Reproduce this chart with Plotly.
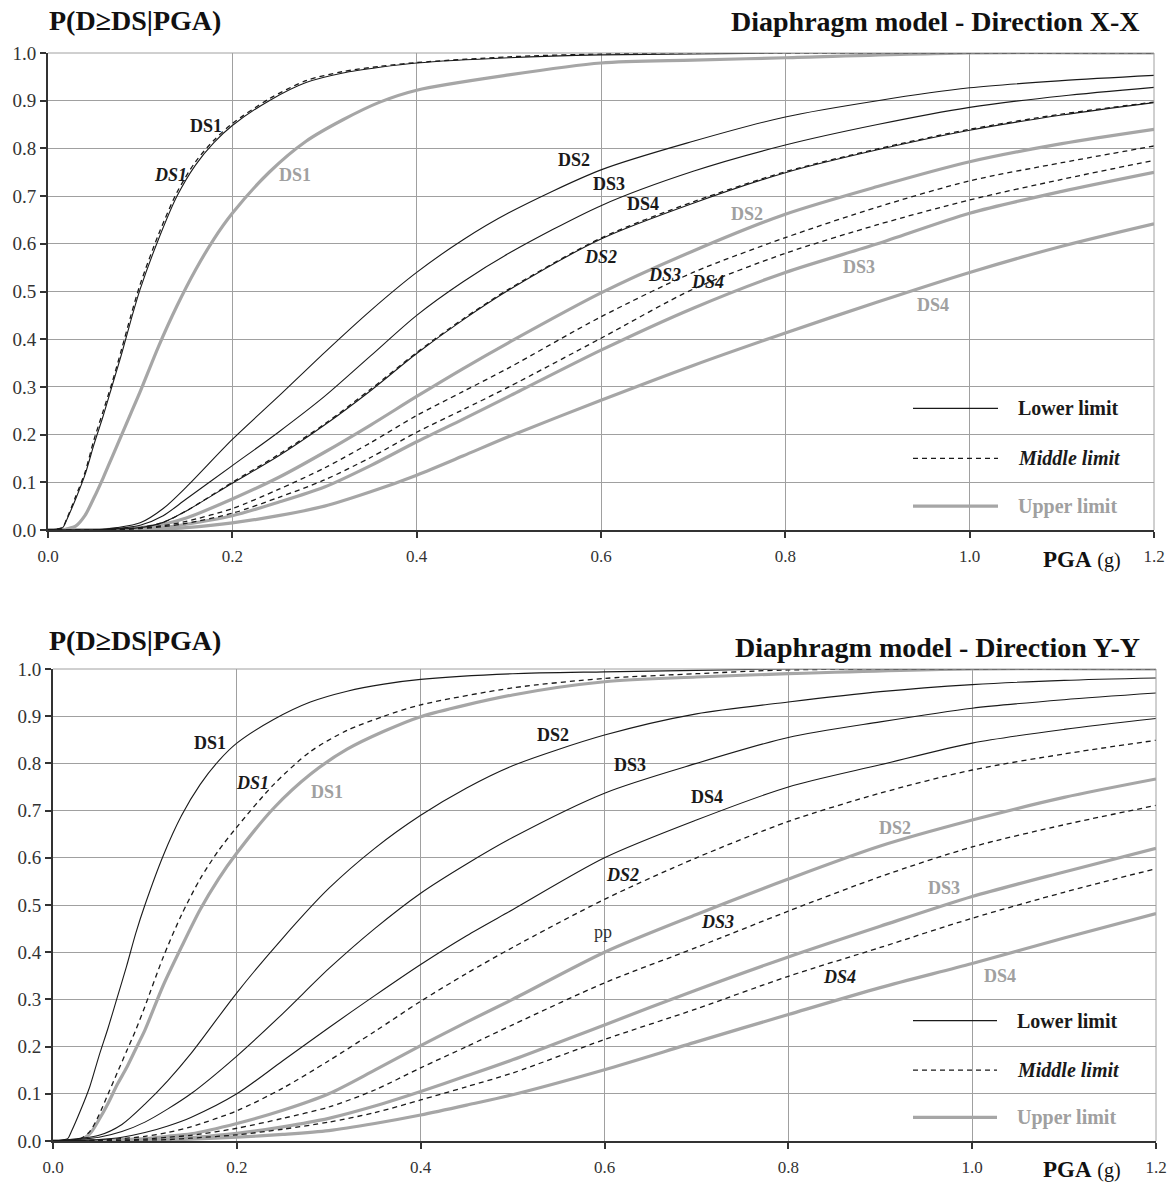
import plotly.graph_objects as go

# ---------------- DATA ----------------
PGA_FINE = [0, 0.01, 0.016, 0.02, 0.03, 0.04, 0.05, 0.06, 0.07, 0.08, 0.09, 0.1,
            0.12, 0.14, 0.16, 0.18, 0.2, 0.24, 0.28, 0.32, 0.36, 0.4,
            0.5, 0.6, 0.7, 0.8, 1.0, 1.2]
PGA = [0, 0.05, 0.075, 0.1, 0.125, 0.15, 0.2, 0.25, 0.3, 0.35, 0.4, 0.45,
       0.5, 0.6, 0.7, 0.8, 0.9, 1.0, 1.1, 1.2]

# Direction X-X
X_LOW_DS1 = [0, 0.002, 0.005, 0.02, 0.065, 0.115, 0.18, 0.24, 0.305, 0.37, 0.44, 0.505,
             0.61, 0.70, 0.765, 0.812, 0.848, 0.9, 0.938, 0.958, 0.97, 0.979,
             0.99, 0.996, 0.998, 1.0, 1.0, 1.0]
X_MID_DS1 = [0, 0.002, 0.006, 0.022, 0.07, 0.12, 0.19, 0.25, 0.312, 0.38, 0.45, 0.515,
             0.62, 0.708, 0.772, 0.817, 0.852, 0.904, 0.942, 0.961, 0.972, 0.98,
             0.992, 0.998, 1.0, 1.0, 1.0, 1.0]
X_UP_DS1 = [0, 0, 0, 0.002, 0.008, 0.03, 0.068, 0.11, 0.155, 0.2, 0.245, 0.29,
            0.385, 0.47, 0.545, 0.61, 0.664, 0.75, 0.815, 0.86, 0.897, 0.922,
            0.954, 0.979, 0.985, 0.99, 1.0, 1.0]
X_LOW_DS2 = [0, 0, 0.005, 0.015, 0.045, 0.09, 0.19, 0.28, 0.372, 0.46, 0.54, 0.608, 0.665, 0.755, 0.815, 0.866, 0.9, 0.927, 0.942, 0.953]
X_LOW_DS3 = [0, 0, 0.003, 0.01, 0.03, 0.065, 0.135, 0.205, 0.28, 0.365, 0.45, 0.52, 0.58, 0.68, 0.752, 0.807, 0.85, 0.886, 0.91, 0.928]
X_LOW_DS4 = [0, 0, 0.002, 0.005, 0.016, 0.04, 0.098, 0.155, 0.22, 0.292, 0.37, 0.44, 0.503, 0.61, 0.685, 0.749, 0.797, 0.838, 0.87, 0.896]
X_MID_DS2 = [0, 0, 0.002, 0.005, 0.016, 0.04, 0.1, 0.158, 0.222, 0.295, 0.372, 0.442, 0.505, 0.612, 0.688, 0.751, 0.799, 0.84, 0.872, 0.897]
X_MID_DS3 = [0, 0, 0.001, 0.004, 0.009, 0.018, 0.045, 0.085, 0.13, 0.183, 0.24, 0.29, 0.34, 0.447, 0.54, 0.613, 0.677, 0.732, 0.77, 0.805]
X_MID_DS4 = [0, 0, 0.001, 0.003, 0.007, 0.014, 0.035, 0.068, 0.105, 0.152, 0.205, 0.252, 0.30, 0.402, 0.505, 0.58, 0.64, 0.692, 0.735, 0.775]
X_UP_DS2 = [0, 0, 0.002, 0.005, 0.012, 0.025, 0.065, 0.11, 0.163, 0.22, 0.28, 0.338, 0.393, 0.497, 0.585, 0.662, 0.72, 0.772, 0.81, 0.84]
X_UP_DS3 = [0, 0, 0.001, 0.002, 0.005, 0.012, 0.03, 0.058, 0.09, 0.135, 0.185, 0.232, 0.28, 0.377, 0.465, 0.54, 0.60, 0.664, 0.71, 0.75]
X_UP_DS4 = [0, 0, 0, 0.001, 0.002, 0.005, 0.015, 0.03, 0.05, 0.08, 0.115, 0.155, 0.196, 0.272, 0.345, 0.413, 0.478, 0.54, 0.595, 0.642]

# Direction Y-Y
Y_LOW_DS1 = [0, 0.002, 0.005, 0.02, 0.065, 0.115, 0.18, 0.24, 0.305, 0.37, 0.44, 0.50,
             0.605, 0.69, 0.755, 0.805, 0.843, 0.893, 0.93, 0.953, 0.968, 0.978,
             0.99, 0.994, 0.997, 1.0, 1.0, 1.0]
Y_MID_DS1 = [0, 0, 0.001, 0.002, 0.005, 0.02, 0.055, 0.1, 0.145, 0.19, 0.235, 0.285,
             0.39, 0.48, 0.555, 0.615, 0.665, 0.755, 0.825, 0.87, 0.9, 0.924,
             0.96, 0.98, 0.99, 0.998, 1.0, 1.0]
Y_UP_DS1 = [0, 0, 0, 0, 0.003, 0.015, 0.045, 0.08, 0.12, 0.155, 0.195, 0.235,
            0.33, 0.412, 0.49, 0.555, 0.61, 0.705, 0.777, 0.83, 0.868, 0.899,
            0.945, 0.973, 0.983, 0.99, 1.0, 1.0]
Y_LOW_DS2 = [0, 0.012, 0.035, 0.078, 0.128, 0.185, 0.314, 0.43, 0.535, 0.62, 0.69, 0.748, 0.795, 0.86, 0.905, 0.93, 0.952, 0.967, 0.976, 0.981]
Y_LOW_DS3 = [0, 0.008, 0.02, 0.04, 0.068, 0.1, 0.18, 0.27, 0.365, 0.45, 0.525, 0.587, 0.643, 0.737, 0.80, 0.855, 0.888, 0.917, 0.935, 0.949]
Y_LOW_DS4 = [0, 0.003, 0.008, 0.018, 0.032, 0.05, 0.1, 0.17, 0.24, 0.308, 0.374, 0.435, 0.49, 0.6, 0.68, 0.75, 0.797, 0.843, 0.872, 0.895]
Y_MID_DS2 = [0, 0.002, 0.005, 0.01, 0.018, 0.03, 0.064, 0.112, 0.17, 0.232, 0.296, 0.355, 0.41, 0.512, 0.60, 0.677, 0.737, 0.786, 0.82, 0.849]
Y_MID_DS3 = [0, 0.001, 0.002, 0.004, 0.008, 0.012, 0.027, 0.048, 0.072, 0.108, 0.155, 0.2, 0.246, 0.335, 0.41, 0.487, 0.56, 0.623, 0.67, 0.711]
Y_MID_DS4 = [0, 0, 0.001, 0.002, 0.003, 0.006, 0.013, 0.025, 0.04, 0.06, 0.087, 0.115, 0.144, 0.215, 0.28, 0.349, 0.41, 0.472, 0.527, 0.577]
Y_UP_DS2 = [0, 0.001, 0.003, 0.005, 0.01, 0.015, 0.037, 0.065, 0.1, 0.15, 0.202, 0.252, 0.30, 0.40, 0.48, 0.555, 0.625, 0.68, 0.728, 0.767]
Y_UP_DS3 = [0, 0, 0.001, 0.002, 0.004, 0.007, 0.016, 0.03, 0.048, 0.074, 0.105, 0.138, 0.172, 0.246, 0.32, 0.39, 0.455, 0.518, 0.57, 0.62]
Y_UP_DS4 = [0, 0, 0, 0.001, 0.002, 0.004, 0.008, 0.014, 0.022, 0.037, 0.055, 0.076, 0.098, 0.151, 0.21, 0.268, 0.325, 0.376, 0.43, 0.482]

X_TICKS = [0.0, 0.2, 0.4, 0.6, 0.8, 1.0, 1.2]
X_TICK_TEXT = ["0.0", "0.2", "0.4", "0.6", "0.8", "1.0", "1.2"]
Y_TICKS = [0.0, 0.1, 0.2, 0.3, 0.4, 0.5, 0.6, 0.7, 0.8, 0.9, 1.0]
Y_TICK_TEXT = ["0.0", "0.1", "0.2", "0.3", "0.4", "0.5", "0.6", "0.7", "0.8", "0.9", "1.0"]

# curve labels: (text, x, y, style)
X_LABELS = [("DS1", 0.171, 0.847, "low"), ("DS1", 0.133, 0.744, "mid"), ("DS1", 0.2685, 0.744, "up"),
            ("DS2", 0.571, 0.776, "low"), ("DS3", 0.609, 0.725, "low"), ("DS4", 0.646, 0.683, "low"),
            ("DS2", 0.758, 0.662, "up"), ("DS2", 0.599, 0.572, "mid"), ("DS3", 0.6685, 0.535, "mid"),
            ("DS4", 0.716, 0.52, "mid"), ("DS3", 0.880, 0.551, "up"), ("DS4", 0.960, 0.472, "up")]
Y_LABELS = [("DS1", 0.171, 0.843, "low"), ("DS1", 0.2165, 0.758, "mid"), ("DS1", 0.298, 0.739, "up"),
            ("DS2", 0.544, 0.860, "low"), ("DS3", 0.628, 0.797, "low"), ("DS4", 0.712, 0.729, "low"),
            ("DS2", 0.620, 0.564, "mid"), ("pp", 0.598, 0.443, "plain"), ("DS3", 0.7225, 0.464, "mid"),
            ("DS4", 0.856, 0.347, "mid"), ("DS2", 0.916, 0.663, "up"), ("DS3", 0.9695, 0.536, "up"),
            ("DS4", 1.030, 0.35, "up")]

LEGEND_NAMES = ["Lower limit", "Middle limit", "Upper limit"]

# ---------------- STYLE ----------------
BLACK = "#1a1a1a"
GRAY = "#a6a6a6"
GRID = "#a0a0a0"
AXIS = "#333333"
SERIF = "Liberation Serif"

STYLE = {
    "low": dict(color=BLACK, width=1.1, dash="solid"),
    "mid": dict(color=BLACK, width=1.3, dash="5px,4px"),
    "up": dict(color=GRAY, width=3.2, dash="solid"),
}

fig = go.Figure()


def add_curves(xa, ya, sets):
    # draw gray first, then dashed, then solid
    for kind in ["up", "mid", "low"]:
        for xs, ys, k in sets:
            if k != kind:
                continue
            fig.add_trace(go.Scatter(x=xs, y=ys, mode="lines", xaxis=xa, yaxis=ya,
                                     line=dict(shape="spline", smoothing=0.8, **STYLE[k]),
                                     showlegend=False, hoverinfo="skip"))


add_curves("x", "y",
           [(PGA_FINE, X_LOW_DS1, "low"), (PGA_FINE, X_MID_DS1, "mid"), (PGA_FINE, X_UP_DS1, "up"),
            (PGA, X_LOW_DS2, "low"), (PGA, X_LOW_DS3, "low"), (PGA, X_LOW_DS4, "low"),
            (PGA, X_MID_DS2, "mid"), (PGA, X_MID_DS3, "mid"), (PGA, X_MID_DS4, "mid"),
            (PGA, X_UP_DS2, "up"), (PGA, X_UP_DS3, "up"), (PGA, X_UP_DS4, "up")])
add_curves("x2", "y2",
           [(PGA_FINE, Y_LOW_DS1, "low"), (PGA_FINE, Y_MID_DS1, "mid"), (PGA_FINE, Y_UP_DS1, "up"),
            (PGA, Y_LOW_DS2, "low"), (PGA, Y_LOW_DS3, "low"), (PGA, Y_LOW_DS4, "low"),
            (PGA, Y_MID_DS2, "mid"), (PGA, Y_MID_DS3, "mid"), (PGA, Y_MID_DS4, "mid"),
            (PGA, Y_UP_DS2, "up"), (PGA, Y_UP_DS3, "up"), (PGA, Y_UP_DS4, "up")])

W, H = 1169, 1182


def xdom(a, b):
    return [a / W, b / W]


def ydom(top, bottom):
    return [1 - bottom / H, 1 - top / H]


common_x = dict(range=[0, 1.2], tickvals=X_TICKS, ticktext=X_TICK_TEXT, showgrid=True, gridcolor=GRID,
                gridwidth=1, zeroline=False, showline=True, linecolor=AXIS, linewidth=2,
                ticks="outside", ticklen=6, tickcolor=AXIS, tickwidth=1.5,
                tickfont=dict(family=SERIF, size=17, color="#333333"), ticklabelstandoff=4,
                automargin=False, fixedrange=True)
common_y = dict(range=[0, 1.0], tickvals=Y_TICKS, ticktext=Y_TICK_TEXT, showgrid=True, gridcolor=GRID,
                gridwidth=1, zeroline=False, showline=True, linecolor=AXIS, linewidth=2,
                ticks="outside", ticklen=6, tickcolor=AXIS, tickwidth=1.5,
                tickfont=dict(family=SERIF, size=19, color="#333333"),
                automargin=False, fixedrange=True)

fig.update_layout(
    width=W, height=H, margin=dict(l=0, r=0, t=0, b=0),
    paper_bgcolor="white", plot_bgcolor="white", showlegend=False,
    xaxis=dict(domain=xdom(48, 1154), anchor="y", **common_x),
    yaxis=dict(domain=ydom(53, 530), anchor="x", **common_y),
    xaxis2=dict(domain=xdom(53, 1156), anchor="y2", **common_x),
    yaxis2=dict(domain=ydom(669, 1141), anchor="x2", **common_y),
)

# border (top and right) in gray
for xr, yr in [("x domain", "y domain"), ("x2 domain", "y2 domain")]:
    fig.add_shape(type="line", xref=xr, yref=yr, x0=0, x1=1, y0=1, y1=1, line=dict(color=GRID, width=1))
    fig.add_shape(type="line", xref=xr, yref=yr, x0=1, x1=1, y0=0, y1=1, line=dict(color=GRID, width=1))

annotations = []


def label_font(kind):
    if kind == "up":
        return dict(family=SERIF, size=18, color="#a0a0a0")
    if kind == "plain":
        return dict(family=SERIF, size=18, color="#333333")
    return dict(family=SERIF, size=18, color=BLACK)


def label_text(t, kind):
    if kind == "mid":
        return f"<b><i>{t}</i></b>"
    if kind == "plain":
        return t
    return f"<b>{t}</b>"


for labels, xr, yr in [(X_LABELS, "x", "y"), (Y_LABELS, "x2", "y2")]:
    for t, lx, ly, k in labels:
        annotations.append(dict(text=label_text(t, k), x=lx, y=ly, xref=xr, yref=yr, showarrow=False,
                                font=label_font(k), xanchor="center", yanchor="middle"))

# legends
leg_y = [0.255, 0.15, 0.05]
leg_text = [f"<b>{LEGEND_NAMES[0]}</b>", f"<b><i>{LEGEND_NAMES[1]}</i></b>", f"<b>{LEGEND_NAMES[2]}</b>"]
leg_col = [BLACK, BLACK, "#a0a0a0"]
leg_kind = ["low", "mid", "up"]
for xr, yr, x0, x1, xt in [("x domain", "y domain", (913 - 48) / 1106, (998 - 48) / 1106, (1016 - 48) / 1106),
                           ("x2 domain", "y2 domain", (913 - 53) / 1103, (997 - 53) / 1103, (1015 - 53) / 1103)]:
    for i in range(3):
        st = STYLE[leg_kind[i]]
        fig.add_shape(type="line", xref=xr, yref=yr, x0=x0, x1=x1, y0=leg_y[i], y1=leg_y[i],
                      line=dict(color=st["color"], width=st["width"], dash=st["dash"]))
        annotations.append(dict(text=leg_text[i], x=xt, y=leg_y[i], xref=xr, yref=yr, showarrow=False,
                                xanchor="left", yanchor="middle",
                                font=dict(family=SERIF, size=20, color=leg_col[i])))

# titles
for left_px, right_px, direction in [(20, 22, "X-X"), (640, 647, "Y-Y")]:
    annotations.append(dict(text="<b>P(D≥DS|PGA)</b>", x=47 / W, y=1 - left_px / H, xref="paper", yref="paper",
                            showarrow=False, xanchor="left", yanchor="middle",
                            font=dict(family=SERIF, size=28, color="#111111")))
    annotations.append(dict(text=f"<b>Diaphragm model - Direction {direction}</b>", x=1142 / W,
                            y=1 - right_px / H, xref="paper", yref="paper", showarrow=False,
                            xanchor="right", yanchor="middle",
                            font=dict(family=SERIF, size=28, color="#111111")))

# PGA (g) axis labels
for ypx in [559, 1169]:
    annotations.append(dict(text="<b>PGA</b> <span style='font-size:20px'>(g)</span>", x=1123 / W,
                            y=1 - ypx / H, xref="paper", yref="paper", showarrow=False,
                            xanchor="right", yanchor="middle",
                            font=dict(family=SERIF, size=23, color="#111111")))

fig.update_layout(annotations=annotations)
fig.write_html("out.html")
